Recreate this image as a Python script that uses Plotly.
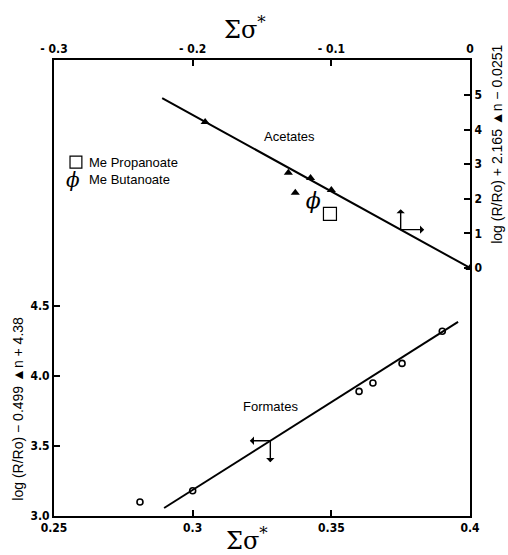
import plotly.graph_objects as go

# Acetates: sigma* (top axis) vs log(R/Ro) + 2.165 Δn - 0.0251 (right axis)
acetate_sigma = [-0.191, -0.131, -0.115, -0.100, -0.126, 0.0]
acetate_logr = [4.22, 2.75, 2.60, 2.25, 2.17, 0.0]
acetate_fit_sigma = [-0.222, 0.0]
acetate_fit_logr = [4.91, 0.0]

# Formates: sigma* (bottom axis) vs log(R/Ro) - 0.499 Δn + 4.38 (left axis)
formate_sigma = [0.281, 0.300, 0.360, 0.365, 0.3755, 0.390]
formate_logr = [3.10, 3.18, 3.89, 3.95, 4.09, 4.32]
formate_fit_sigma = [0.2897, 0.3957]
formate_fit_logr = [3.057, 4.386]

# Individual esters plotted against the acetate scales
propanoate_sigma, propanoate_logr = -0.101, 1.56
butanoate_sigma, butanoate_logr = -0.113, 1.88

# Where the axis-pointer arrows sit on each fit line
acetate_arrow_sigma = -0.05
formate_arrow_sigma = 0.328

bottom_ticks = [0.25, 0.3, 0.35, 0.4]
bottom_labels = ["0.25", "0.3", "0.35", "0.4"]
top_ticks = [-0.3, -0.2, -0.1, 0.0]
top_labels = ["- 0.3", "- 0.2", "- 0.1", "0"]
left_ticks = [3.0, 3.5, 4.0, 4.5]
left_labels = ["3.0", "3.5", "4.0", "4.5"]
right_ticks = [0, 1, 2, 3, 4, 5]
right_labels = ["0", "1", "2", "3", "4", "5"]


def on_line(xs, ys, x):
    return ys[0] + (x - xs[0]) * (ys[1] - ys[0]) / (xs[1] - xs[0])


tick_font = dict(family="DejaVu Sans Condensed", size=12, color="black", weight=900)
label_font = dict(family="Liberation Sans", size=13, color="black")
title_font = dict(family="Liberation Sans", size=14, color="black")
sigma_font = dict(family="DejaVu Serif", size=24, color="black")

fig = go.Figure()

fig.add_trace(go.Scatter(
    x=formate_fit_sigma, y=formate_fit_logr, mode="lines",
    line=dict(color="black", width=2), xaxis="x", yaxis="y", showlegend=False))
fig.add_trace(go.Scatter(
    x=formate_sigma, y=formate_logr, mode="markers",
    marker=dict(symbol="circle-open", size=6, color="black", line=dict(width=1.6)),
    xaxis="x", yaxis="y", showlegend=False))

fig.add_trace(go.Scatter(
    x=acetate_fit_sigma, y=acetate_fit_logr, mode="lines",
    line=dict(color="black", width=2), xaxis="x2", yaxis="y2", showlegend=False))
fig.add_trace(go.Scatter(
    x=acetate_sigma, y=acetate_logr, mode="markers",
    marker=dict(symbol="triangle-up", size=8, color="black"),
    xaxis="x2", yaxis="y2", showlegend=False))
fig.add_trace(go.Scatter(
    x=[propanoate_sigma], y=[propanoate_logr], mode="markers",
    marker=dict(symbol="square-open", size=13, color="black", line=dict(width=1.2)),
    xaxis="x2", yaxis="y2", showlegend=False))
fig.add_trace(go.Scatter(
    x=[butanoate_sigma], y=[butanoate_logr], mode="text", text=["ϕ"],
    textfont=dict(family="DejaVu Serif", size=22, color="black", style="italic"),
    xaxis="x2", yaxis="y2", showlegend=False))

annotations = []

# Acetate arrows: up (top axis) and right (right axis)
ay_ac = on_line(acetate_fit_sigma, acetate_fit_logr, acetate_arrow_sigma)
for dx, dy in [(0, -22), (25, 0)]:
    annotations.append(dict(
        x=acetate_arrow_sigma, y=ay_ac, xref="x2", yref="y2",
        ax=dx, ay=dy, axref="pixel", ayref="pixel", text="",
        showarrow=True, arrowside="start", arrowhead=2, arrowsize=1,
        arrowwidth=1.4, arrowcolor="black"))

# Formate arrows: left (left axis) and down (bottom axis)
ay_fo = on_line(formate_fit_sigma, formate_fit_logr, formate_arrow_sigma)
for dx, dy in [(-22, 0), (0, 23)]:
    annotations.append(dict(
        x=formate_arrow_sigma, y=ay_fo, xref="x", yref="y",
        ax=dx, ay=dy, text="",
        showarrow=True, arrowside="start", arrowhead=2, arrowsize=1,
        arrowwidth=1.4, arrowcolor="black"))


def note(x, y, text, font, xref="paper", yref="paper", xanchor="center", angle=0):
    return dict(x=x, y=y, xref=xref, yref=yref, text=text, showarrow=False,
                xanchor=xanchor, yanchor="middle", textangle=angle, font=font)


annotations += [
    note(-0.13, 3.8, "Acetates", label_font, "x2", "y2"),
    note(0.328, 3.78, "Formates", label_font, "x", "y"),
    note(0.079, 0.776, "Me Propanoate", label_font, xanchor="left"),
    note(0.079, 0.737, "Me Butanoate", label_font, xanchor="left"),
    note(0.046, 0.737, "ϕ",
         dict(family="DejaVu Serif", size=20, color="black", style="italic")),
    note(0.459, 1.07, "Σσ<sup>*</sup>", sigma_font),
    note(0.464, -0.05, "Σσ<sup>*</sup>", sigma_font),
    note(1.065, 0.814, "log (R/Ro) + 2.165 ▲n − 0.0251", title_font, angle=-90),
    note(-0.087, 0.235, "log (R/Ro) − 0.499 ▲n + 4.38", title_font, angle=-90),
]

axis_common = dict(showgrid=False, zeroline=False, showline=True, linecolor="black",
                   linewidth=2, ticks="inside", ticklen=6, tickwidth=1.5,
                   tickcolor="black", tickfont=tick_font)

fig.update_layout(
    width=508, height=555,
    margin=dict(l=54, r=38, t=60, b=39),
    paper_bgcolor="white", plot_bgcolor="white",
    xaxis=dict(range=[0.25, 0.4], tickvals=bottom_ticks, ticktext=bottom_labels,
               side="bottom", **axis_common),
    xaxis2=dict(range=[-0.3, 0.0], tickvals=top_ticks, ticktext=top_labels,
                side="top", overlaying="x", anchor="y2", **axis_common),
    yaxis=dict(range=[3.0, 6.257], tickvals=left_ticks, ticktext=left_labels,
               side="left", **axis_common),
    yaxis2=dict(range=[-7.17, 6.01], tickvals=right_ticks, ticktext=right_labels,
                side="right", overlaying="y", anchor="x2", **axis_common),
    shapes=[dict(type="rect", xref="paper", yref="paper",
                 x0=0.0385, x1=0.067, y0=0.763, y1=0.789,
                 line=dict(color="black", width=1.2))],
    annotations=annotations,
    showlegend=False,
)

fig.write_html("out.html")
